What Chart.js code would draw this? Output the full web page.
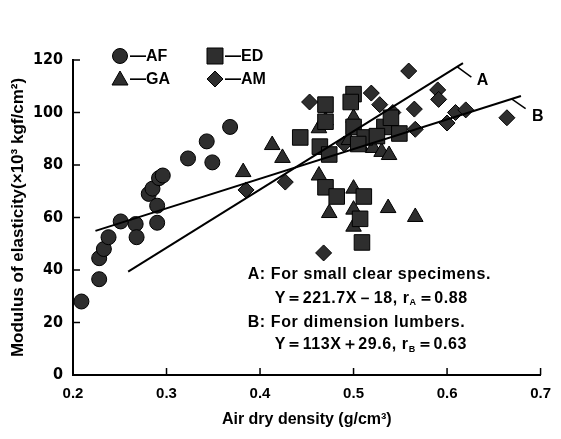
<!DOCTYPE html>
<html>
<head>
<meta charset="utf-8">
<script src="https://cdn.jsdelivr.net/npm/chart.js@4.4.1/dist/chart.umd.min.js"></script>
<style>
body { margin: 0; background: #fff; }
</style>
</head>
<body>
<canvas id="moe" width="561" height="439"></canvas>
<script>
// values
var afX = [0.209, 0.228, 0.228, 0.233, 0.238, 0.251, 0.267, 0.268, 0.281, 0.285, 0.292, 0.296, 0.290, 0.290, 0.323, 0.343, 0.349, 0.368];
var afY = [28, 36.5, 44.5, 48, 52.5, 58.5, 57.5, 52.5, 69, 71, 75, 76, 64.5, 58, 82.5, 89, 81, 94.5];

var edX = [0.464, 0.500, 0.497, 0.470, 0.470, 0.443, 0.500, 0.512, 0.533, 0.549, 0.464, 0.474, 0.505, 0.525, 0.540, 0.470, 0.482, 0.511, 0.507, 0.509];
var edY = [125.5, 107, 104, 103, 96.5, 90.5, 94.5, 90.5, 94.5, 92, 87, 84, 88, 91, 98, 71.5, 68, 68, 59.5, 50.5];

var gaX = [0.382, 0.413, 0.424, 0.463, 0.470, 0.495, 0.500, 0.507, 0.521, 0.530, 0.538, 0.463, 0.500, 0.474, 0.500, 0.500, 0.537, 0.566];
var gaY = [77.3, 87.6, 82.7, 94, 97, 89.5, 98, 87.5, 86.5, 85, 83.8, 76, 71, 61.7, 63, 56.5, 63.6, 60.2];

var amX = [0.385, 0.427, 0.453, 0.468, 0.490, 0.519, 0.528, 0.542, 0.559, 0.565, 0.566, 0.590, 0.591, 0.600, 0.609, 0.620, 0.664];
var amY = [70.5, 73.5, 104, 46.5, 88, 107.4, 103, 100, 115.8, 101.3, 93.6, 108.6, 105, 96, 100, 101, 98];

// regression lines (end points) and their leader marks
var lineAX = [0.259, 0.617];
var lineAY = [39.4, 118.8];
var lineBX = [0.224, 0.679];
var lineBY = [54.9, 106.3];
var leadAX = [0.611, 0.626];
var leadAY = [117.4, 113.5];
var leadBX = [0.669, 0.684];
var leadBY = [105.2, 101.5];

var xTicks = [0.2, 0.3, 0.4, 0.5, 0.6, 0.7];
var yTicks = [0, 20, 40, 60, 80, 100, 120];

function pts(xs, ys) {
    return xs.map(function (v, i) { return {x: v, y: ys[i]}; });
}

var markFill = '#2e2e2e';
var sans = '"Liberation Sans", Arial, sans-serif';

function series(label, xs, ys, style, r) {
    return {
        type: 'scatter', label: label, data: pts(xs, ys),
        pointStyle: style, pointRadius: r, pointHoverRadius: r,
        backgroundColor: markFill, borderColor: '#000', borderWidth: 1, order: 2
    };
}
function seg(xs, ys, w) {
    return {
        type: 'line', data: pts(xs, ys), borderColor: '#000', borderWidth: w,
        pointRadius: 0, fill: false, order: 1
    };
}

function shape(ctx, kind, x, y) {
    ctx.beginPath();
    if (kind == 'circle') ctx.arc(x, y, 7.5, 0, Math.PI * 2);
    if (kind == 'rect') ctx.rect(x - 8, y - 8, 16, 16);
    if (kind == 'triangle') { ctx.moveTo(x, y - 8); ctx.lineTo(x + 8, y + 6); ctx.lineTo(x - 8, y + 6); ctx.closePath(); }
    if (kind == 'diamond') { ctx.moveTo(x, y - 8); ctx.lineTo(x + 8, y); ctx.lineTo(x, y + 8); ctx.lineTo(x - 8, y); ctx.closePath(); }
    ctx.fillStyle = markFill; ctx.fill();
    ctx.strokeStyle = '#000'; ctx.lineWidth = 1; ctx.stroke();
}

var decor = {
    id: 'decor',
    afterDraw: function (chart) {
        var ctx = chart.ctx, xs = chart.scales.x, ys = chart.scales.y, a = chart.chartArea;
        ctx.save();
        // inward ticks
        ctx.strokeStyle = '#000'; ctx.lineWidth = 1.5;
        xTicks.forEach(function (v) {
            var px = xs.getPixelForValue(v);
            ctx.beginPath(); ctx.moveTo(px, a.bottom); ctx.lineTo(px, a.bottom - 7); ctx.stroke();
        });
        yTicks.forEach(function (v) {
            var py = ys.getPixelForValue(v);
            ctx.beginPath(); ctx.moveTo(a.left, py); ctx.lineTo(a.left + 7, py); ctx.stroke();
        });

        // legend
        ctx.font = 'bold 16px ' + sans;
        ctx.textBaseline = 'middle'; ctx.textAlign = 'left'; ctx.fillStyle = '#000';
        var lg = [['circle', '\u2014AF', 47, -4], ['rect', '\u2014ED', 142, -4],
                  ['triangle', '\u2014GA', 47, 19], ['diamond', '\u2014AM', 142, 19]];
        lg.forEach(function (it) {
            shape(ctx, it[0], a.left + it[2], a.top + it[3]);
            ctx.fillStyle = '#000';
            ctx.fillText(it[1], a.left + it[2] + 10, a.top + it[3] + 1);
        });

        // line labels
        ctx.font = 'bold 16px ' + sans;
        ctx.textAlign = 'center';
        ctx.fillText('A', xs.getPixelForValue(0.638), ys.getPixelForValue(112));
        ctx.fillText('B', xs.getPixelForValue(0.697), ys.getPixelForValue(98.5));

        // notes
        ctx.textAlign = 'left';
        ctx.letterSpacing = '0.6px';
        var x0 = xs.getPixelForValue(0.387);
        var notes = [
            [38.2, 'A', ': For small clear specimens.', null],
            [29.2, '', 'Y\uFF1D221.7X\uFF0D18, r', ['A', '\uFF1D0.88']],
            [20.1, 'B', ': For dimension lumbers.', null],
            [11.4, '', 'Y\uFF1D113X\uFF0B29.6, r', ['B', '\uFF1D0.63']]
        ];
        notes.forEach(function (n) {
            var py = ys.getPixelForValue(n[0]);
            ctx.font = 'bold 16px ' + sans;
            if (n[1]) ctx.fillText(n[1], x0, py);
            var tx = x0 + (n[1] ? 12 : 27);
            ctx.fillText(n[2], tx, py);
            if (n[3]) {
                tx += ctx.measureText(n[2]).width;
                ctx.font = 'bold 9px ' + sans;
                ctx.fillText(n[3][0], tx, py + 4);
                tx += ctx.measureText(n[3][0]).width + 1;
                ctx.font = 'bold 16px ' + sans;
                ctx.fillText(n[3][1], tx, py);
            }
        });
        ctx.restore();
    }
};

new Chart('moe', {
    type: 'scatter',
    data: {
        datasets: [
            series('AF', afX, afY, 'circle', 7.5),
            series('ED', edX, edY, 'rect', 11),
            series('GA', gaX, gaY, 'triangle', 9),
            series('AM', amX, amY, 'rectRot', 8),
            seg(lineAX, lineAY, 2),
            seg(lineBX, lineBY, 2),
            seg(leadAX, leadAY, 1.5),
            seg(leadBX, leadBY, 1.5)
        ]
    },
    options: {
        responsive: false,
        animation: false,
        layout: { padding: { top: 60, right: 15, left: 0, bottom: 0 } },
        plugins: { legend: { display: false }, tooltip: { enabled: false } },
        scales: {
            x: {
                type: 'linear', min: 0.2, max: 0.7,
                afterFit: function (s) { s.height = 64; },
                afterBuildTicks: function (s) { s.ticks = xTicks.map(function (v) { return {value: v}; }); },
                grid: { display: false, drawTicks: false },
                border: { color: '#000', width: 2 },
                ticks: {
                    color: '#000', padding: 10,
                    font: { family: sans, size: 15, weight: 'bold' },
                    callback: function (v) { return v.toFixed(1); }
                },
                title: {
                    display: true, text: 'Air dry density (g/cm\u00b3)', color: '#000',
                    font: { family: sans, size: 16, weight: 'bold' },
                    padding: { top: 0, bottom: 10 }
                }
            },
            y: {
                type: 'linear', min: 0, max: 120,
                afterFit: function (s) { s.width = 73; },
                afterBuildTicks: function (s) { s.ticks = yTicks.map(function (v) { return {value: v}; }); },
                grid: { display: false, drawTicks: false },
                border: { color: '#000', width: 2 },
                ticks: {
                    color: '#000', padding: 10,
                    font: { family: '"DejaVu Sans Condensed", "Liberation Sans", sans-serif', size: 16, weight: 'bold' }
                },
                title: {
                    display: true, text: 'Modulus of elasticity(\u00d710\u00b3 kgf/cm\u00b2)', color: '#000',
                    font: { family: sans, size: 17, weight: 'bold' },
                    padding: { top: 8, bottom: 0 }
                }
            }
        }
    },
    plugins: [decor]
});
</script>
</body>
</html>
